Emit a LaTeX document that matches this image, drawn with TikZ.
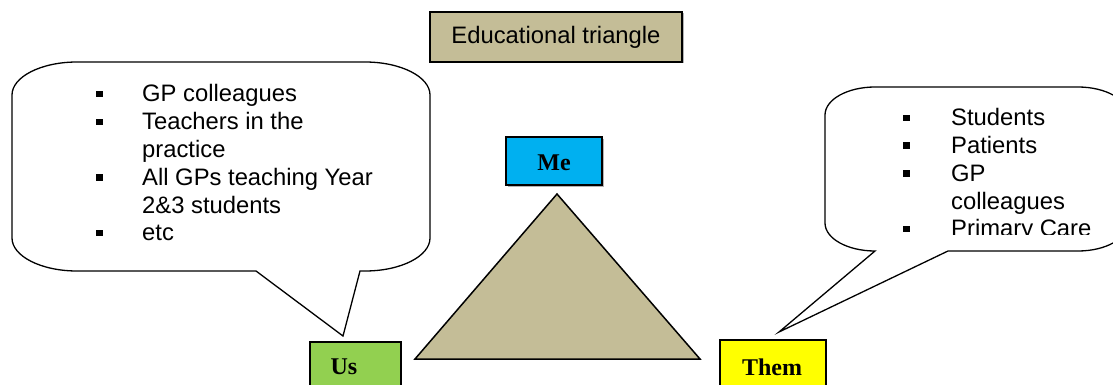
\documentclass[tikz,border=0pt]{standalone}
\usepackage{fontspec}
\setmainfont{Liberation Sans}
\newfontfamily\timesfam{Liberation Serif}
\usetikzlibrary{shadows}
\definecolor{tan}{HTML}{C4BD97}
\definecolor{mecyan}{HTML}{00B0F0}
\definecolor{usgreen}{HTML}{92D050}
\definecolor{themyellow}{HTML}{FFFF00}
\newcommand{\bsq}{\raisebox{4.5pt}{\rule{6.5pt}{6.5pt}}}
\tikzset{
  labelbox/.style={draw=black, line width=1.5pt, inner sep=0pt,
    drop shadow={shadow xshift=1.5pt, shadow yshift=-1.5pt, fill=gray, opacity=0.6}},
  calloutline/.style={draw=black, fill=white, line width=1.3pt, line join=miter},
  sanstext/.style={font=\fontsize{23.8}{27.8}\selectfont, inner sep=0pt},
  boldserif/.style={font=\timesfam\bfseries\fontsize{24}{28}\selectfont, inner sep=0pt}
}
\begin{document}
\begin{tikzpicture}[x=1pt, y=-1pt]
\useasboundingbox (0,0) rectangle (1113,385);
\clip (0,0) rectangle (1113,385);

% title
\node[labelbox, fill=tan, minimum width=252pt, minimum height=50pt, sanstext] (title) at (556,37) {Educational triangle};

% left callout
\path[calloutline] (77,62) -- (365,62) .. controls (400.9,62) and (430,76.8) .. (430,95)
  -- (430,238) .. controls (430,256.2) and (400.9,271) .. (365,271)
  -- (360,271) -- (343,336) -- (256,271)
  -- (77,271) .. controls (41.1,271) and (12,256.2) .. (12,238)
  -- (12,95) .. controls (12,76.8) and (41.1,62) .. (77,62) -- cycle;
\node[sanstext, anchor=base west] (uslist) at (96,102) {%
  \begin{tabular}[t]{@{}p{46pt}@{}l@{}}
  \bsq & GP colleagues\\
  \bsq & Teachers in the\\
       & practice\\
  \bsq & All GPs teaching Year\\
       & 2\&3 students\\
  \bsq & etc
  \end{tabular}};

% right callout
\path[calloutline] (875,87) -- (1078,87) .. controls (1105.6,87) and (1128,99.5) .. (1128,115)
  -- (1128,223) .. controls (1128,238.5) and (1105.6,251) .. (1078,251)
  -- (948,251) -- (779,332) -- (875,251)
  .. controls (847.4,251) and (825,238.5) .. (825,223)
  -- (825,115) .. controls (825,99.5) and (847.4,87) .. (875,87) -- cycle;
\begin{scope}
\clip (820,80) rectangle (1113,234);
\node[sanstext, anchor=base west] (themlist) at (903,125.7) {%
  \begin{tabular}[t]{@{}p{48pt}@{}l@{}}
  \bsq & Students\\
  \bsq & Patients\\
  \bsq & GP\\
       & colleagues\\
  \bsq & Primary Care
  \end{tabular}};
\end{scope}

% triangle
\coordinate (apex) at (557,194);
\coordinate (bl) at (415,359);
\coordinate (br) at (700,359);
\path[draw=black, fill=tan, line width=1.5pt, line join=miter] (apex) -- (bl) -- (br) -- cycle;

% Me
\node[labelbox, fill=mecyan, minimum width=96pt, minimum height=48pt] (me) at (554,161) {};
\node[boldserif] (metext) at (554,162.7) {Me};

% Us
\node[labelbox, fill=usgreen, minimum width=91pt, minimum height=80pt, anchor=north west] (us) at (309,341) {};
\node[boldserif] (ustext) at (344,367) {Us};

% Them
\node[labelbox, fill=themyellow, minimum width=106pt, minimum height=80pt, anchor=north west] (them) at (719,339) {};
\node[boldserif] (themtext) at (772,367.3) {Them};
\end{tikzpicture}
\end{document}
